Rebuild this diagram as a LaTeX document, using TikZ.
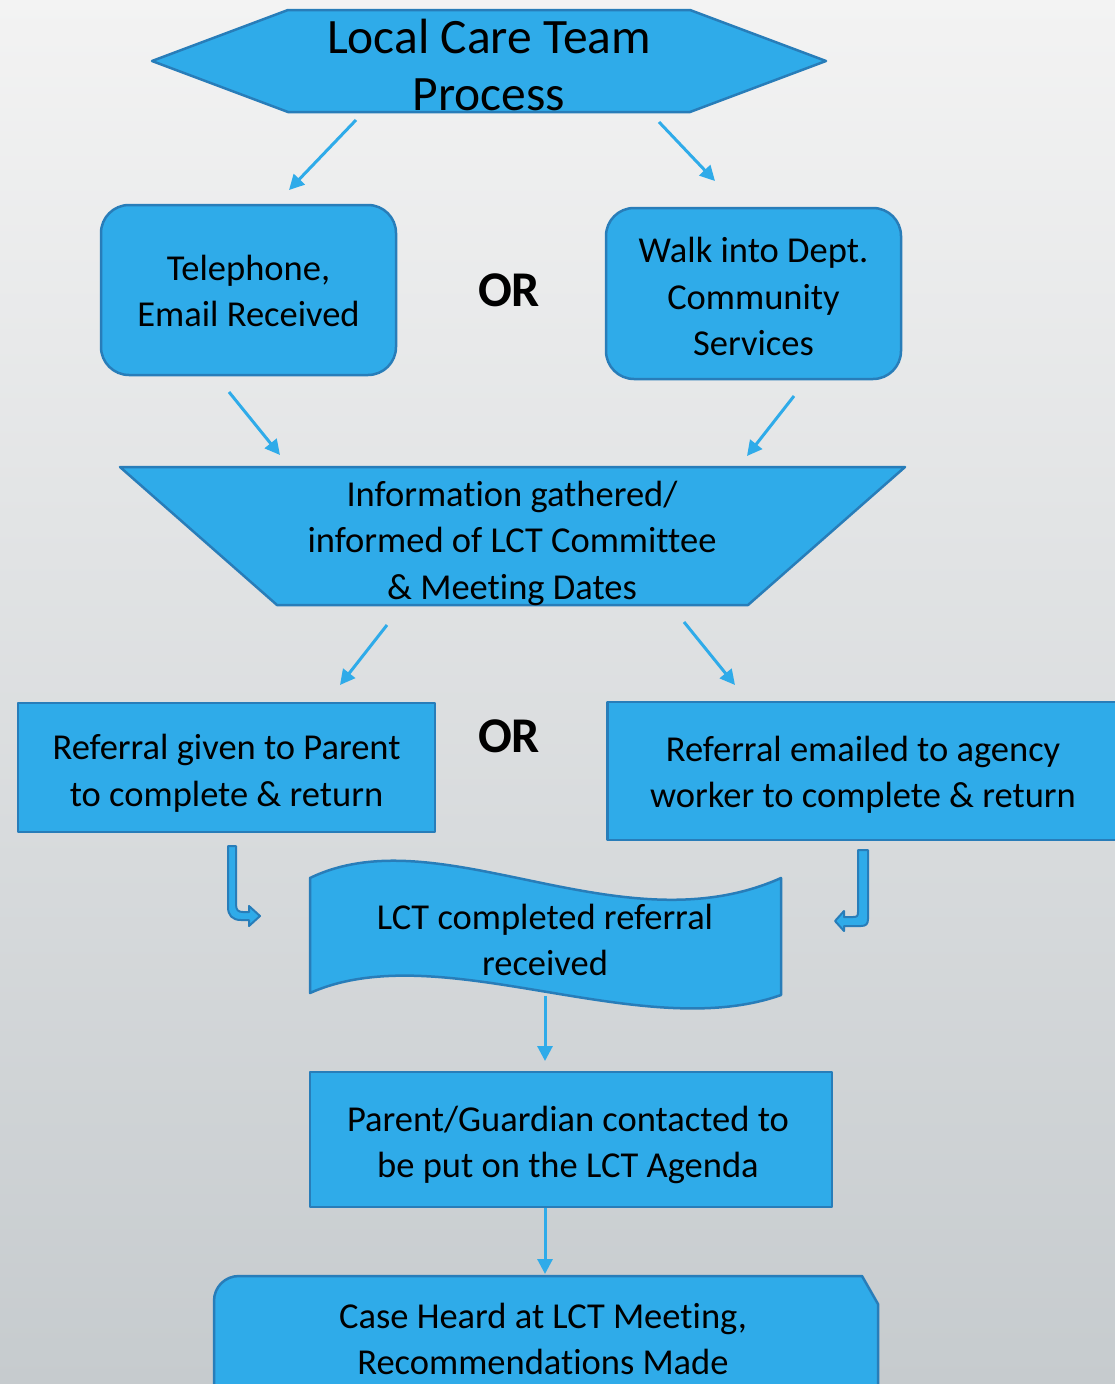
\documentclass[tikz,border=0pt]{standalone}
\usepackage{fontspec}
\setmainfont[Ligatures=NoCommon]{Carlito}
\usepackage{xcolor}
\usepackage{tikz}
\usetikzlibrary{arrows.meta}
\definecolor{lctblue}{RGB}{47,171,233}
\definecolor{lctedge}{RGB}{40,125,185}
\definecolor{bgtop}{RGB}{243,243,243}
\definecolor{bgmid}{RGB}{232,233,233}
\definecolor{bgbottom}{RGB}{198,203,206}

\tikzset{
  shapefill/.style={fill=lctblue, draw=lctedge, line width=2.5pt, line join=round},
  boxtext/.style={align=center, font=\fontsize{36.5}{46.5}\selectfont, inner sep=0pt},
  flowarrow/.style={draw=lctblue, line width=3pt, -{Triangle[width=15pt,length=15pt]}},
  bentarrow/.style={fill=lctblue, draw=lctedge, line width=2pt, line join=round},
  ortext/.style={font=\fontsize{50}{56}\selectfont\bfseries, inner sep=0pt}
}

\begin{document}
\begin{tikzpicture}[x=1pt, y=-1pt]
  \useasboundingbox (0,0) rectangle (1115,1384);
  \clip (0,0) rectangle (1115,1384);
  \shade[top color=bgtop, middle color=bgmid, bottom color=bgbottom] (0,0) rectangle (1115,1384);

  \filldraw[shapefill] (152,61) -- (288,10) -- (690,10) -- (826,61) -- (690,112) -- (288,112) -- cycle;
  \node[boxtext, font=\fontsize{49.5}{57}\selectfont] (title) at (489,65) {Local Care Team\\Process};

  \node[shapefill, rounded corners=28pt, minimum width=295pt, minimum height=170pt] (phone) at (248.5,290) {};
  \node[boxtext, yshift=-1pt] (phonetext) at (phone) {Telephone,\\Email Received};
  \node[ortext] (or1) at (509,290) {OR};
  \node[shapefill, rounded corners=28pt, minimum width=295pt, minimum height=171pt] (walkin) at (753.5,293.5) {};
  \node[boxtext, yshift=-3pt] (walkintext) at (walkin) {Walk into Dept.\\Community\\Services};

  \filldraw[shapefill] (120,467) -- (905,467) -- (748,605) -- (277,605) -- cycle;
  \node[boxtext] (info) at (512,543) {Information gathered/\\informed of LCT Committee\\\& Meeting Dates};

  \node[shapefill, minimum width=417pt, minimum height=129pt] (parentref) at (226.5,767.5) {};
  \node[boxtext, yshift=-6pt] (parentreftext) at (parentref) {Referral given to Parent\\to complete \& return};
  \node[ortext] (or2) at (509,736) {OR};
  \node[shapefill, minimum width=520pt, minimum height=138pt, anchor=west] (agencyref) at (606,771) {};
  \node[boxtext] (agencyreftext) at (863,775) {Referral emailed to agency\\worker to complete \& return};

  \filldraw[shapefill] (310,878) .. controls (440,815) and (620,950) .. (781,878) -- (781,995) .. controls (640,1045) and (440,935) .. (310,993) -- cycle;
  \node[boxtext] (received) at (545,940) {LCT completed referral\\received};

  \node[shapefill, minimum width=522pt, minimum height=135pt] (contact) at (571,1139.5) {};
  \node[boxtext] (contacttext) at (568,1145) {Parent/Guardian contacted to\\be put on the LCT Agenda};

  \filldraw[shapefill] (214,1400) -- (214,1301) .. controls (214,1287) and (225,1276) .. (239,1276) -- (862,1276) -- (878,1304) -- (878,1400) -- cycle;
  \node[boxtext] (meeting) at (543,1339) {Case Heard at LCT Meeting,\\Recommendations Made};

  \coordinate (t1) at (356,120);
  \coordinate (p1) at (289,190);
  \coordinate (t2) at (659,122);
  \coordinate (w1) at (715,181);
  \coordinate (p2) at (229,392);
  \coordinate (i1) at (280,455);
  \coordinate (w2) at (794,396);
  \coordinate (i2) at (747,456);
  \coordinate (i3) at (387,625);
  \coordinate (r1) at (340,685);
  \coordinate (i4) at (684,622);
  \coordinate (r2) at (735,685);
  \coordinate (c1) at (545,996);
  \coordinate (c2) at (545,1061);
  \coordinate (m1) at (545,1274);

  \draw[flowarrow] (t1) -- (p1);
  \draw[flowarrow] (t2) -- (w1);
  \draw[flowarrow] (p2) -- (i1);
  \draw[flowarrow] (w2) -- (i2);
  \draw[flowarrow] (i3) -- (r1);
  \draw[flowarrow] (i4) -- (r2);
  \draw[flowarrow] (c1) -- (c2);
  \draw[flowarrow] (contact.south -| c2) -- (m1);

  \filldraw[bentarrow] (228,846) -- (236,846) -- (236,904) .. controls (236,910) and (238,912) .. (243,912) -- (249,912) -- (249,906) -- (260,916) -- (249,926) -- (249,920) -- (241,920) .. controls (232,920) and (228,915) .. (228,907) -- cycle;
  \filldraw[bentarrow] (868,850) -- (858,850) -- (858,912) .. controls (858,916) and (857,917) .. (853,917) -- (844,917) -- (844,911) -- (835,921) -- (844,931) -- (844,926) -- (861,926) .. controls (866,926) and (868,924) .. (868,919) -- cycle;
\end{tikzpicture}
\end{document}
